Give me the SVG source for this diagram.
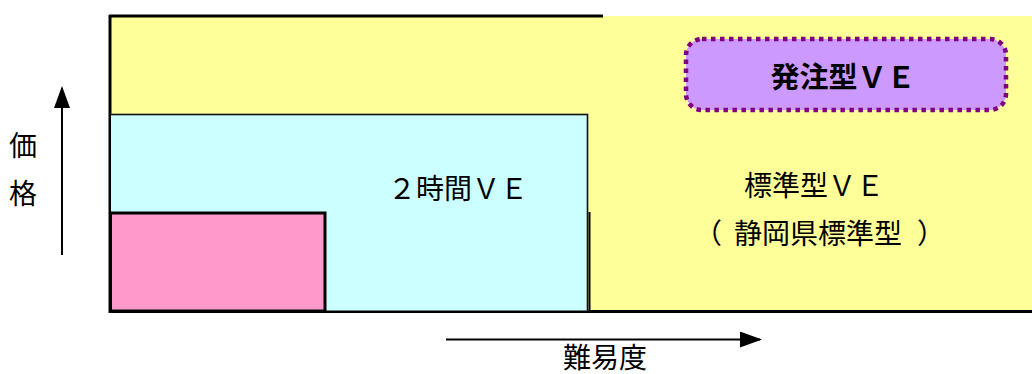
<svg xmlns="http://www.w3.org/2000/svg" width="1032" height="374" viewBox="0 0 1032 374">
<style>
text{font-family:"Noto Sans CJK JP","Noto Sans",sans-serif;fill:#000}
.t{font-size:28px}
.b{font-size:29px;font-weight:bold}
.edge{stroke:#000;stroke-width:3;fill:none}
.arr{stroke:#000;stroke-width:2;fill:none}
</style>
<defs>
<marker id="ah" markerWidth="22" markerHeight="16" refX="20" refY="8" orient="auto" markerUnits="userSpaceOnUse">
<path d="M0,0 L22,8 L0,16 Z" fill="#000"/>
</marker>
</defs>
<g id="standard">
<rect x="110" y="16" width="922" height="295" fill="#FFFF99"/>
<path class="edge" d="M109,16 H603 M110,15 V313 M109,311.5 H1032"/>
<text class="t" x="814" y="196" text-anchor="middle">標準型ＶＥ</text>
<text class="t" x="708" y="244" text-anchor="middle">（</text>
<text class="t" x="818" y="244" text-anchor="middle">静岡県標準型</text>
<text class="t" x="931" y="244" text-anchor="middle">）</text>
</g>
<g id="twohour">
<rect x="111" y="114.5" width="476.5" height="196" fill="#CCFFFF"/>
<path d="M111,114.5 H587.5 V311" stroke="#666" stroke-width="2" fill="none"/>
<path d="M111,114.5 H587.5 V311" stroke="#111" stroke-width="1" fill="none"/>
<path d="M589.5,212 V311" stroke="#000" stroke-width="2"/>
<text class="t" x="458" y="199" text-anchor="middle">２時間ＶＥ</text>
</g>
<g id="small">
<rect x="110.5" y="213" width="214.5" height="98" fill="#FF99CC" stroke="#000" stroke-width="3"/>
</g>
<g id="order">
<rect x="686" y="39" width="320" height="71" rx="16" ry="16" fill="#CC99FF" stroke="#800080" stroke-width="4.5" stroke-dasharray="4.5 4.5"/>
<text class="b" x="843" y="88" text-anchor="middle">発注型ＶＥ</text>
</g>
<g id="connectors">
<line class="arr" x1="62" y1="255" x2="62" y2="88" marker-end="url(#ah)"/>
<line class="arr" x1="446" y1="339.5" x2="760" y2="339.5" marker-end="url(#ah)"/>
</g>
<g id="labels">
<text class="t" x="23" y="156" text-anchor="middle">価</text>
<text class="t" x="23" y="204" text-anchor="middle">格</text>
<text class="t" x="605" y="368" text-anchor="middle" font-size="27">難易度</text>
</g>
</svg>
